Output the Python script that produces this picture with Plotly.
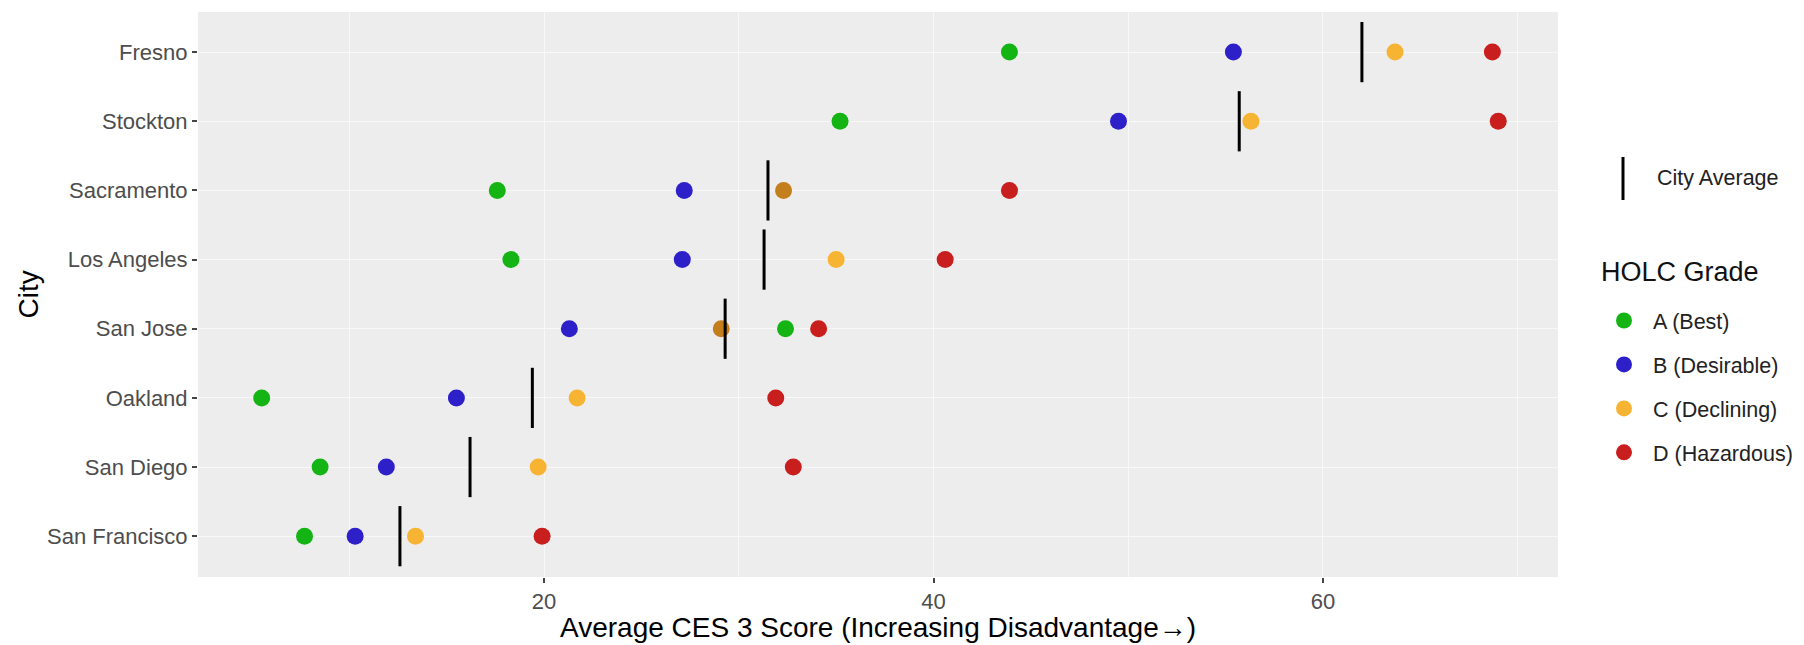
import plotly.graph_objects as go

# ---- data ----
cities = ["Fresno", "Stockton", "Sacramento", "Los Angeles", "San Jose",
          "Oakland", "San Diego", "San Francisco"]
grade_labels = ["A (Best)", "B (Desirable)", "C (Declining)", "D (Hazardous)"]
grade_A = [43.9, 35.2, 17.6, 18.3, 32.4, 5.5, 8.5, 7.7]
grade_B = [55.4, 49.5, 27.2, 27.1, 21.3, 15.5, 11.9, 10.3]
grade_C = [63.7, 56.3, 32.3, 35.0, 29.1, 21.7, 19.7, 13.4]
grade_D = [68.7, 69.0, 43.9, 40.6, 34.1, 31.9, 32.8, 19.9]
city_avg = [62.0, 55.7, 31.5, 31.3, 29.3, 19.4, 16.2, 12.6]
x_ticks = [20, 40, 60]
x_minor = [10, 30, 50, 70]

# ---- style ----
FONT = "Liberation Sans, Arial, sans-serif"
grade_colors = ["#14B414", "#2D20C8", "#F6B432", "#C81E1E"]
c_point_colors = ["#F6B432", "#F6B432", "#C47E1C", "#F6B432", "#C47E1C",
                  "#F6B432", "#F6B432", "#F6B432"]

OFF = 8                      # default page (body) margin of the browser
W, H = 1804 - OFF, 645 - OFF
ML = 198 - OFF
MT = 12 - OFF
MR = W - (1558 - OFF)
MB = H - (577 - OFF)
PW, PH = W - ML - MR, H - MT - MB


def px_x(p):                 # screen px -> paper x
    return (p - OFF - ML) / PW


def px_y(p):                 # screen px -> paper y
    return (H - MB - (p - OFF)) / PH


fig = go.Figure()

series = [grade_A, grade_B, grade_C, grade_D]
for i, (lab, vals) in enumerate(zip(grade_labels, series)):
    col = c_point_colors if i == 2 else grade_colors[i]
    fig.add_trace(go.Scatter(
        x=vals, y=cities, mode="markers", name=lab,
        legendgroup=lab, legendrank=i + 1, showlegend=(i != 2),
        marker=dict(size=17, color=col, line=dict(width=0)),
    ))

# legend-only key for C so the legend uses the plain colour
fig.add_trace(go.Scatter(
    x=[None], y=[None], mode="markers", name=grade_labels[2],
    legendgroup=grade_labels[2] + "_key", legendrank=3,
    marker=dict(size=17, color=grade_colors[2]),
))

fig.add_trace(go.Scatter(
    x=city_avg, y=cities, mode="markers", name="City Average",
    showlegend=False,
    marker=dict(symbol="line-ns", size=43, color="black",
                line=dict(width=3, color="black")),
))

fig.update_layout(
    width=W, height=H, autosize=False,
    margin=dict(l=ML, r=MR, t=MT, b=MB, autoexpand=False),
    paper_bgcolor="white", plot_bgcolor="#EEEDEE",
    font=dict(family=FONT, size=21.5, color="#222"),
    showlegend=True,
    legend=dict(
        xref="container", yref="container",
        x=1587 / W, xanchor="left",
        y=1 - 292 / H, yanchor="top",
        itemwidth=48, tracegroupgap=13,
        font=dict(size=21.5, color="#222"),
        bgcolor="rgba(0,0,0,0)", traceorder="grouped",
    ),
    xaxis=dict(
        range=[2.23, 72.07], tickvals=x_ticks, ticks="outside",
        ticklen=5, tickwidth=1.5, tickcolor="#444",
        tickfont=dict(size=22, color="#4D4D4D"),
        showgrid=True, gridcolor="#F8F8F8", gridwidth=1.4,
        minor=dict(tickvals=x_minor, showgrid=True,
                   gridcolor="#F8F8F8", gridwidth=0.8, ticks=""),
        zeroline=False, showline=False,
    ),
    yaxis=dict(
        type="category", categoryorder="array",
        categoryarray=cities[::-1], range=[-0.59, 7.58],
        ticks="outside", ticklen=5, tickwidth=1.5, tickcolor="#444",
        tickfont=dict(size=22, color="#4D4D4D"),
        showgrid=True, gridcolor="#F8F8F8", gridwidth=1.4,
        zeroline=False, showline=False,
    ),
)

# axis titles
fig.add_annotation(xref="paper", yref="paper", x=0.5, y=px_y(627),
                   text="Average CES 3 Score (Increasing Disadvantage→)",
                   showarrow=False, xanchor="center", yanchor="middle",
                   font=dict(size=28, color="#000"))
fig.add_annotation(xref="paper", yref="paper", x=px_x(28), y=0.5,
                   text="City", textangle=-90,
                   showarrow=False, xanchor="center", yanchor="middle",
                   font=dict(size=28, color="#000"))

# legend titles / City Average key
fig.add_annotation(xref="paper", yref="paper", x=px_x(1599), y=px_y(272),
                   text="HOLC Grade", showarrow=False, xanchor="left",
                   yanchor="middle", font=dict(size=27, color="#111"))
fig.add_shape(type="line", xref="paper", yref="paper",
              x0=px_x(1623), x1=px_x(1623), y0=px_y(157), y1=px_y(200),
              line=dict(color="black", width=3))
fig.add_annotation(xref="paper", yref="paper", x=px_x(1655), y=px_y(178),
                   text="City Average", showarrow=False, xanchor="left",
                   yanchor="middle", font=dict(size=21.5, color="#222"))

fig.write_html("out.html")
